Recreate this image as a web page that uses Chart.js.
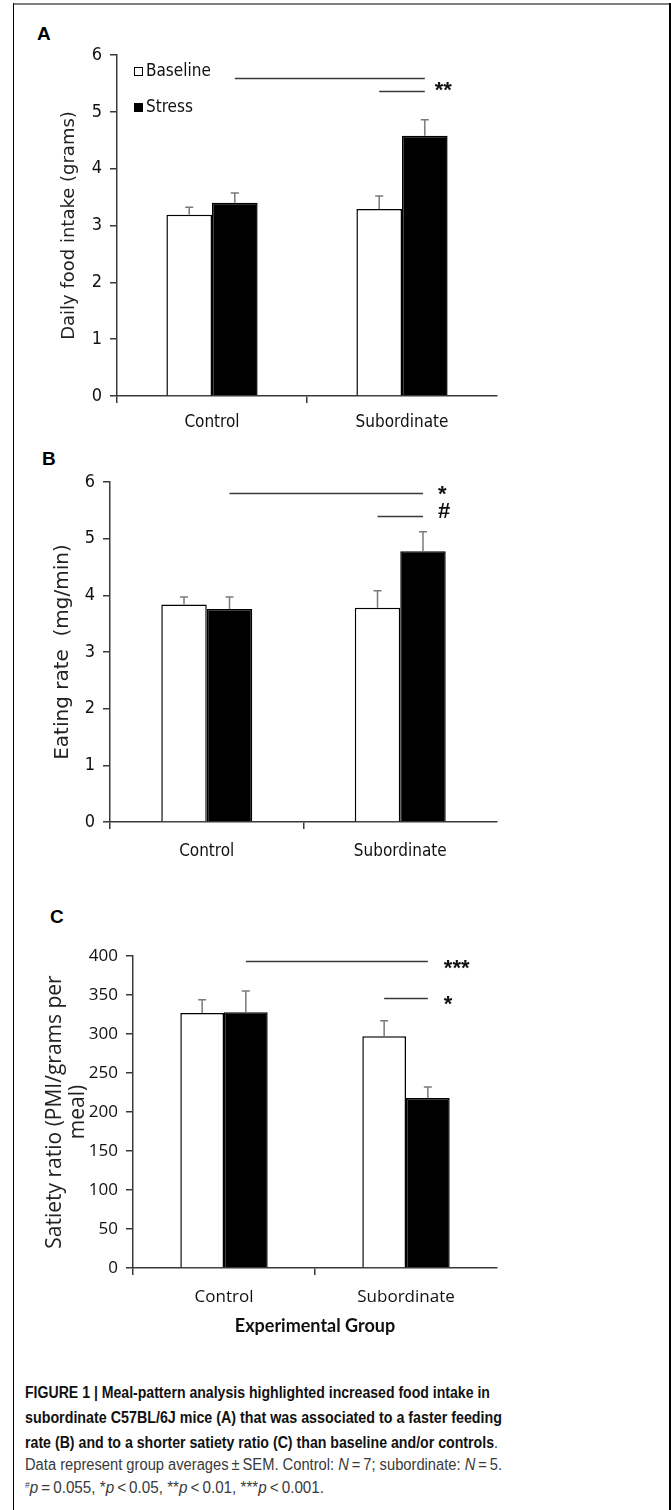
<!DOCTYPE html>
<html>
<head>
<meta charset="utf-8">
<title>Figure 1</title>
<script src="https://cdn.jsdelivr.net/npm/chart.js@4.4.1/dist/chart.umd.min.js"></script>
<style>
body { margin: 0; background: #fff; }
#page { position: relative; width: 671px; height: 1510px; overflow: hidden; background: #fff; }
.frame-top { position: absolute; left: 13px; top: 3px; width: 658px; height: 2px; background: #808080; }
.frame-left { position: absolute; left: 13px; top: 3px; width: 1px; height: 1507px; background: #000; }
.frame-right { position: absolute; left: 669px; top: 3px; width: 2px; height: 1507px; background: #000; }
.panel { position: absolute; left: 0; width: 671px; }
.tag { position: absolute; font: bold 19px "Liberation Sans", Arial, sans-serif; color: #000; line-height: 20px; }
.cap { position: absolute; left: 25px; white-space: nowrap; font-family: "Liberation Sans Narrow", "Liberation Sans", sans-serif; font-size: 16px; line-height: 24px; color: #3a3a3a; transform-origin: 0 50%; }
.cap b { color: #111; }
.cap sup { font-size: 9px; vertical-align: 5px; line-height: 0; }
</style>
</head>
<body>
<div id="page">
  <div class="frame-top"></div>
  <div class="frame-left"></div>
  <div class="frame-right"></div>

  <div class="tag" style="left:37px;top:24px;">A</div>
  <div class="tag" style="left:42px;top:449px;">B</div>
  <div class="tag" style="left:50px;top:907px;">C</div>

  <div class="panel" style="top:0;height:440px;"><canvas id="chartA"></canvas></div>
  <div class="panel" style="top:440px;height:430px;"><canvas id="chartB"></canvas></div>
  <div class="panel" style="top:870px;height:470px;"><canvas id="chartC"></canvas></div>

  <div class="cap" data-w="465" style="top:1381px;"><b>FIGURE 1 | Meal-pattern analysis highlighted increased food intake in</b></div>
  <div class="cap" data-w="477" style="top:1406px;"><b>subordinate C57BL/6J mice (A) that was associated to a faster feeding</b></div>
  <div class="cap" data-w="473" style="top:1431px;"><b>rate (B) and to a shorter satiety ratio (C) than baseline and/or controls</b>.</div>
  <div class="cap" data-w="477" style="top:1453px;">Data represent group averages&thinsp;&plusmn;&thinsp;SEM. Control: <i>N</i>&thinsp;=&thinsp;7; subordinate: <i>N</i>&thinsp;=&thinsp;5.</div>
  <div class="cap" data-w="299" style="top:1476px;"><sup>#</sup><i>p</i>&thinsp;=&thinsp;0.055, *<i>p</i>&thinsp;&lt;&thinsp;0.05, **<i>p</i>&thinsp;&lt;&thinsp;0.01, ***<i>p</i>&thinsp;&lt;&thinsp;0.001.</div>
</div>

<script>
// Meal-pattern figure: three grouped bar panels with SEM bars and significance brackets

const groups = ['Control', 'Subordinate'];
const seriesNames = ['Baseline', 'Stress'];

// A - daily food intake (grams)
const intakeTicks = [0, 1, 2, 3, 4, 5, 6];
const intakeBaseline = [3.19, 3.29];
const intakeStress = [3.40, 4.58];
const intakeBaselineSem = [0.13, 0.23];
const intakeStressSem = [0.17, 0.28];
const intakeBrackets = [5.60, 5.37];
const intakeMarks = ['**'];
const intakeMarkLevels = [5.46];

// B - eating rate (mg/min)
const rateTicks = [0, 1, 2, 3, 4, 5, 6];
const rateBaseline = [3.84, 3.78];
const rateStress = [3.76, 4.78];
const rateBaselineSem = [0.13, 0.30];
const rateStressSem = [0.21, 0.34];
const rateBrackets = [5.81, 5.40];
const rateMarks = ['*', '#'];
const rateMarkLevels = [5.86, 5.49];

// C - satiety ratio (PMI/grams per meal)
const satietyTicks = [0, 50, 100, 150, 200, 250, 300, 350, 400];
const satietyBaseline = [327, 297];
const satietyStress = [328, 218];
const satietyBaselineSem = [17, 20];
const satietyStressSem = [27, 14];
const satietyBrackets = [393, 346];
const satietyMarks = ['***', '*'];
const satietyMarkLevels = [390, 344];

const AXIS = '#3a3a3a';
const INK = '#111';

// error bars, brackets, stars and the inset legend
const panelExtras = {
    id: 'panelExtras',
    afterDatasetsDraw(chart, args, opts) {
        const ctx = chart.ctx;
        const y = chart.scales.y;
        const metas = [chart.getDatasetMeta(0).data, chart.getDatasetMeta(1).data];

        ctx.save();
        ctx.strokeStyle = '#7a7a7a';
        ctx.lineWidth = 1.5;
        metas.forEach((bars, d) => {
            const values = chart.data.datasets[d].data;
            bars.forEach((bar, i) => {
                const top = y.getPixelForValue(values[i] + opts.sem[d][i]);
                ctx.beginPath();
                ctx.moveTo(bar.x, bar.y);
                ctx.lineTo(bar.x, top);
                ctx.moveTo(bar.x - 4, top);
                ctx.lineTo(bar.x + 4, top);
                ctx.stroke();
            });
        });

        // long bracket: control stress -> subordinate stress, short: subordinate baseline -> stress
        const spans = [[metas[1][0].x, metas[1][1].x], [metas[0][1].x, metas[1][1].x]];
        ctx.strokeStyle = AXIS;
        ctx.lineWidth = 1.5;
        opts.brackets.forEach((level, k) => {
            const py = Math.round(y.getPixelForValue(level)) + 0.5;
            ctx.beginPath();
            ctx.moveTo(spans[k][0], py);
            ctx.lineTo(spans[k][1], py);
            ctx.stroke();
        });

        ctx.fillStyle = INK;
        ctx.font = 'bold 22px "Liberation Sans", Arial, sans-serif';
        ctx.textAlign = 'left';
        ctx.textBaseline = 'middle';
        opts.marks.forEach((m, k) => {
            const dy = m === '#' ? 1 : 5;
            ctx.fillText(m, metas[1][1].x + opts.markDx, y.getPixelForValue(opts.markLevels[k]) + dy);
        });

        if (opts.legend) {
            const area = chart.chartArea;
            ctx.font = '17px "DejaVu Sans Condensed", "DejaVu Sans", sans-serif';
            ctx.lineWidth = 1;
            chart.data.datasets.forEach((ds, d) => {
                const bx = area.left + 17;
                const by = area.top + 12 + d * 36;
                ctx.fillStyle = ds.backgroundColor;
                ctx.fillRect(bx, by, 9, 9);
                ctx.strokeStyle = '#000';
                ctx.strokeRect(bx + 0.5, by + 0.5, 8, 8);
                ctx.fillStyle = INK;
                ctx.fillText(ds.label, bx + 12, by + 5);
            });
        }
        ctx.restore();
    }
};

function makePanel(canvasId, p) {
    const config = {
        type: 'bar',
        data: {
            labels: groups,
            datasets: [{
                label: seriesNames[0],
                data: p.baseline,
                backgroundColor: '#ffffff',
                borderColor: '#000000',
                borderWidth: 1.5,
                categoryPercentage: p.catPct,
                barPercentage: 1.0
            }, {
                label: seriesNames[1],
                data: p.stress,
                backgroundColor: '#000000',
                borderColor: '#000000',
                borderWidth: 1.5,
                categoryPercentage: p.catPct,
                barPercentage: 1.0
            }]
        },
        options: {
            responsive: true,
            maintainAspectRatio: false,
            animation: false,
            events: [],
            layout: { padding: { top: p.top, right: 174, left: 0, bottom: 0 } },
            plugins: {
                legend: { display: false },
                tooltip: { enabled: false },
                panelExtras: {
                    sem: [p.baselineSem, p.stressSem],
                    brackets: p.brackets,
                    marks: p.marks,
                    markLevels: p.markLevels,
                    markDx: p.markDx,
                    legend: p.legend
                }
            },
            scales: {
                x: {
                    grid: {
                        drawOnChartArea: false,
                        offset: true,
                        tickLength: 7,
                        lineWidth: 1.5,
                        color: c => (c.index === 0 || c.index === 1) ? AXIS : 'rgba(0,0,0,0)'
                    },
                    border: { color: AXIS, width: 1.5 },
                    ticks: { color: INK, font: p.xFont, padding: p.xPad },
                    title: p.xTitle || { display: false },
                    afterFit: s => { s.height = p.xHeight; }
                },
                y: {
                    min: p.ticks[0],
                    max: p.ticks[p.ticks.length - 1],
                    afterBuildTicks: s => { s.ticks = p.ticks.map(v => ({ value: v })); },
                    grid: { drawOnChartArea: false, tickLength: 7, lineWidth: 1.5, color: AXIS },
                    border: { color: AXIS, width: 1.5 },
                    ticks: { color: INK, font: p.yFont, padding: 8 },
                    title: {
                        display: true,
                        text: p.yTitle,
                        color: '#222',
                        font: p.yTitleFont,
                        padding: { top: p.yTitlePad, bottom: 0 }
                    },
                    afterFit: s => { s.width = p.yWidth; }
                }
            }
        },
        plugins: [panelExtras]
    };
    return new Chart(document.getElementById(canvasId), config);
}

const condensed = '"DejaVu Sans Condensed", "DejaVu Sans", sans-serif';

makePanel('chartA', {
    baseline: intakeBaseline, stress: intakeStress,
    baselineSem: intakeBaselineSem, stressSem: intakeStressSem,
    ticks: intakeTicks, brackets: intakeBrackets,
    marks: intakeMarks, markLevels: intakeMarkLevels, markDx: 10,
    legend: true, catPct: 0.48,
    top: 55, yWidth: 117, xHeight: 44, xPad: 9,
    xFont: { family: condensed, size: 17 },
    yFont: { family: condensed, size: 18 },
    yTitle: 'Daily food intake (grams)',
    yTitleFont: { family: '"DejaVu Sans", sans-serif', size: 18 },
    yTitlePad: 59
});

makePanel('chartB', {
    baseline: rateBaseline, stress: rateStress,
    baselineSem: rateBaselineSem, stressSem: rateStressSem,
    ticks: rateTicks, brackets: rateBrackets,
    marks: rateMarks, markLevels: rateMarkLevels, markDx: 15,
    legend: false, catPct: 0.47,
    top: 42, yWidth: 110, xHeight: 48, xPad: 12,
    xFont: { family: condensed, size: 17 },
    yFont: { family: condensed, size: 18 },
    yTitle: 'Eating rate  (mg/min)',
    yTitleFont: { family: '"DejaVu Sans", sans-serif', size: 20 },
    yTitlePad: 51
});

makePanel('chartC', {
    baseline: satietyBaseline, stress: satietyStress,
    baselineSem: satietyBaselineSem, stressSem: satietyStressSem,
    ticks: satietyTicks, brackets: satietyBrackets,
    marks: satietyMarks, markLevels: satietyMarkLevels, markDx: 16,
    legend: false, catPct: 0.48,
    top: 86, yWidth: 133, xHeight: 72, xPad: 12,
    xFont: { family: '"Open Sans", sans-serif', size: 17 },
    yFont: { family: '"Open Sans", sans-serif', size: 17 },
    yTitle: ['Satiety ratio (PMI/grams per', 'meal)'],
    yTitleFont: { family: '"Open Sans", sans-serif', size: 21, lineHeight: 1.1 },
    yTitlePad: 43,
    xTitle: {
        display: true,
        text: 'Experimental Group',
        color: INK,
        font: { family: 'Lato, sans-serif', size: 18, weight: 'bold' },
        padding: { top: 0, bottom: 3 }
    }
});

// squeeze each caption line to the width it has in the printed figure
document.querySelectorAll('.cap').forEach(el => {
    const target = Number(el.dataset.w);
    const w = el.getBoundingClientRect().width;
    if (w > 0) el.style.transform = 'scaleX(' + (target / w).toFixed(4) + ')';
});
</script>
</body>
</html>
